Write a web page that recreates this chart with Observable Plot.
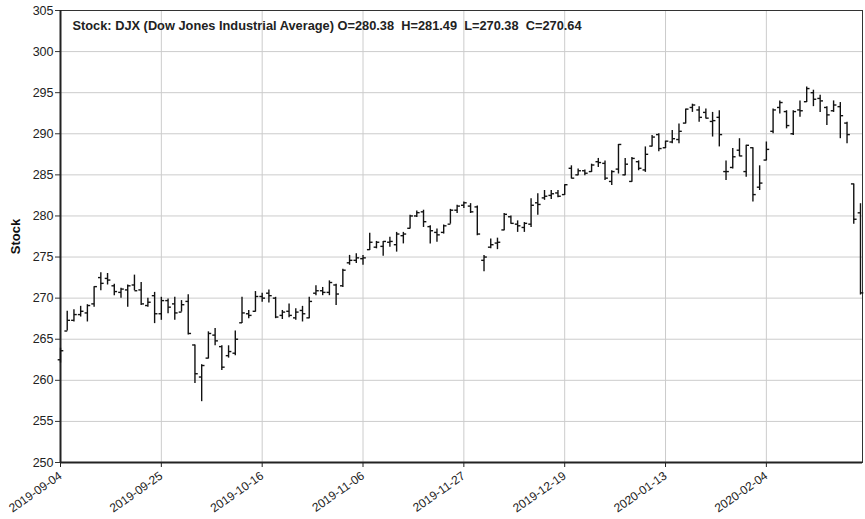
<!DOCTYPE html>
<html><head><meta charset="utf-8">
<script src="https://cdn.jsdelivr.net/npm/d3@7"></script>
<script src="https://cdn.jsdelivr.net/npm/@observablehq/plot@0.6"></script>
<style>
body{margin:0;background:#fff;}
#chart svg{font-family:"Liberation Sans",Arial,sans-serif;}
</style></head>
<body><div id="chart"></div>
<script>
const symbol = "DJX";
const symbolName = "Dow Jones Industrial Average";
const dates = [
"2019-09-04","2019-09-05","2019-09-06","2019-09-09","2019-09-10","2019-09-11","2019-09-12","2019-09-13","2019-09-16","2019-09-17","2019-09-18","2019-09-19","2019-09-20","2019-09-23","2019-09-24","2019-09-25","2019-09-26","2019-09-27","2019-09-30",
"2019-10-01","2019-10-02","2019-10-03","2019-10-04","2019-10-07","2019-10-08","2019-10-09","2019-10-10","2019-10-11","2019-10-14","2019-10-15","2019-10-16","2019-10-17","2019-10-18","2019-10-21","2019-10-22","2019-10-23","2019-10-24","2019-10-25","2019-10-28","2019-10-29","2019-10-30","2019-10-31",
"2019-11-01","2019-11-04","2019-11-05","2019-11-06","2019-11-07","2019-11-08","2019-11-11","2019-11-12","2019-11-13","2019-11-14","2019-11-15","2019-11-18","2019-11-19","2019-11-20","2019-11-21","2019-11-22","2019-11-25","2019-11-26","2019-11-27","2019-11-29",
"2019-12-02","2019-12-03","2019-12-04","2019-12-05","2019-12-06","2019-12-09","2019-12-10","2019-12-11","2019-12-12","2019-12-13","2019-12-16","2019-12-17","2019-12-18","2019-12-19","2019-12-20","2019-12-23","2019-12-24","2019-12-26","2019-12-27","2019-12-30","2019-12-31",
"2020-01-02","2020-01-03","2020-01-06","2020-01-07","2020-01-08","2020-01-09","2020-01-10","2020-01-13","2020-01-14","2020-01-15","2020-01-16","2020-01-17","2020-01-21","2020-01-22","2020-01-23","2020-01-24","2020-01-27","2020-01-28","2020-01-29","2020-01-30","2020-01-31",
"2020-02-03","2020-02-04","2020-02-05","2020-02-06","2020-02-07","2020-02-10","2020-02-11","2020-02-12","2020-02-13","2020-02-14","2020-02-18","2020-02-19","2020-02-20","2020-02-21","2020-02-24","2020-02-25"];
const open = [262.5,266.0,267.3,268.0,268.2,269.3,272.5,272.4,271.5,270.7,271.0,271.6,271.0,269.1,270.3,268.1,269.7,269.3,268.3,
269.6,264.3,260.4,262.7,265.5,264.1,263.0,263.3,267.0,268.1,268.4,270.2,270.6,270.0,267.9,268.4,267.6,268.5,267.6,270.6,270.9,270.7,271.6,
271.5,274.3,274.6,274.8,275.9,276.2,276.3,276.8,276.5,277.6,278.5,280.0,280.5,278.7,278.0,278.0,279.0,280.7,281.3,281.2,
281.1,274.6,276.2,276.7,278.3,279.9,279.0,278.6,279.0,281.6,282.2,282.5,282.8,282.6,285.8,285.0,285.5,285.4,286.6,286.4,284.2,
285.7,285.0,284.2,286.6,285.6,288.5,289.9,288.3,289.0,289.3,291.3,293.2,292.9,292.6,291.5,292.0,285.4,285.9,288.0,285.4,288.3,
283.5,286.8,290.3,293.2,292.7,290.0,292.9,293.9,295.0,294.3,293.2,292.8,293.3,291.3,283.9,280.38];
const high = [263.9,268.4,268.6,269.0,269.2,271.4,273.1,273.0,271.7,271.2,271.6,272.8,271.9,270.0,270.7,270.1,269.9,270.1,269.7,
270.4,264.3,261.9,265.9,266.3,264.2,264.2,266.0,270.1,268.5,270.8,270.6,271.0,270.1,268.5,269.3,268.7,269.0,270.1,271.5,271.3,272.1,271.7,
273.5,275.2,275.4,275.2,277.9,276.9,276.9,277.4,278.0,278.0,280.1,280.6,280.7,278.8,278.4,278.9,280.8,281.3,281.7,281.5,
281.2,275.2,277.2,277.3,280.3,280.0,279.4,279.2,282.1,282.7,283.1,283.1,283.1,283.8,286.1,285.7,285.6,286.3,287.0,286.7,285.5,
288.7,287.0,287.1,286.7,288.4,289.8,290.0,289.1,290.4,291.2,293.0,293.6,293.3,293.0,292.6,292.8,286.7,288.2,289.4,288.6,288.3,
286.1,289.0,293.0,294.0,292.8,292.8,294.0,295.7,295.3,294.7,293.3,294.0,293.8,291.4,283.9,281.49];
const low = [262.1,266.0,267.1,267.7,267.1,268.9,270.9,271.6,270.3,270.0,268.9,270.9,269.1,268.9,266.9,267.3,268.1,267.3,268.3,
265.5,259.6,257.4,262.6,264.2,261.2,262.7,263.0,266.9,267.5,268.3,269.5,269.4,267.5,267.4,267.6,267.3,267.1,267.5,270.3,270.3,270.3,269.1,
271.3,274.0,274.2,274.0,275.8,276.0,275.1,276.2,275.6,276.6,278.4,279.8,278.6,276.6,276.8,277.8,279.0,280.3,280.9,280.3,
277.6,273.2,276.0,275.9,278.2,279.0,278.0,278.0,278.6,280.1,281.9,282.0,282.2,282.5,284.5,284.9,284.9,285.3,285.9,284.3,283.7,
285.1,284.9,284.1,285.5,285.3,288.4,287.8,288.2,288.8,288.8,291.2,292.6,291.4,291.8,289.6,288.4,284.3,285.7,287.2,284.7,281.7,
283.1,286.7,290.0,292.4,290.6,289.8,292.0,293.8,293.3,292.6,291.0,292.6,289.4,288.8,279.0,270.38];
const close = [263.6,267.3,268.0,268.4,269.1,271.4,271.8,272.2,270.8,271.1,271.5,270.9,269.3,269.5,268.1,269.7,268.9,268.2,269.2,
265.7,260.8,261.8,265.7,264.8,261.6,263.5,265.0,268.2,267.9,270.2,270.0,270.3,267.7,268.3,267.9,268.3,268.1,269.6,270.9,270.7,271.9,270.5,
273.4,274.6,274.9,274.9,276.8,276.8,276.9,276.9,277.8,277.8,280.0,280.4,279.3,278.2,277.7,278.8,280.7,281.2,281.6,280.5,
277.8,275.0,276.5,276.8,280.2,279.1,278.8,279.1,281.3,281.4,282.4,282.7,282.4,283.8,284.6,285.5,285.2,286.2,286.5,284.6,285.4,
288.7,286.3,287.0,285.8,287.5,289.6,288.2,289.1,289.4,290.3,293.0,293.5,292.0,291.9,291.6,289.9,285.4,287.2,287.3,288.6,282.6,
284.0,288.1,292.9,293.8,291.0,292.7,292.8,295.5,294.2,294.0,292.3,293.5,292.2,289.9,279.6,270.64];
const xTickIndex = [0,15,30,45,60,75,90,105];
const yTicks = [250,255,260,265,270,275,280,285,290,295,300,305];

const bars = dates.map((d,i)=>({i, date:d, o:open[i], h:high[i], l:low[i], c:close[i]}));
const last = bars[bars.length-1];
const w = 0.42;
const title = `Stock: ${symbol} (${symbolName}) O=${last.o.toFixed(2)}\u00a0 H=${last.h.toFixed(2)}\u00a0 L=${last.l.toFixed(2)}\u00a0 C=${last.c.toFixed(2)}`;

const chart = Plot.plot({
  width: 865, height: 519,
  marginLeft: 60, marginRight: 3, marginTop: 10, marginBottom: 57,
  style: {fontFamily: '"Liberation Sans", Arial, sans-serif', fontSize: "12px", color: "#222"},
  x: {type: "linear", domain: [0, 119.3]},
  y: {domain: [250, 305]},
  marks: [
    Plot.gridY(yTicks, {stroke: "#cccccc", strokeOpacity: 1, strokeWidth: 1}),
    Plot.gridX(xTickIndex, {stroke: "#cccccc", strokeOpacity: 1, strokeWidth: 1}),
    Plot.axisY(yTicks, {tickSize: 5, tickPadding: 2, fontSize: 12.5, label: null, stroke: "#333"}),
    Plot.axisX(xTickIndex, {tickSize: 5, tickRotate: -35, tickFormat: i => dates[i], fontSize: 12, label: null, tickPadding: 7}),
    Plot.frame({stroke: "#333", strokeWidth: 1}),
    Plot.ruleX([0], {stroke: "#222", strokeWidth: 2}),
    Plot.ruleY([250], {stroke: "#222", strokeWidth: 2}),
    Plot.ruleX(bars, {x: "i", y1: "l", y2: "h", stroke: "#111", strokeWidth: 1.4}),
    Plot.link(bars, {x1: d => d.i - w, x2: "i", y1: "o", y2: "o", stroke: "#111", strokeWidth: 1.4}),
    Plot.link(bars, {x1: "i", x2: d => d.i + w, y1: "c", y2: "c", stroke: "#111", strokeWidth: 1.4}),
    Plot.text([title], {frameAnchor: "top-left", dx: 12, dy: 10, fontWeight: "bold", fontSize: 12.8, fill: "#222"}),
    Plot.text(["Stock"], {frameAnchor: "left", dx: -45, rotate: -90, textAnchor: "middle", fontWeight: "bold", fontSize: 13, fill: "#111"})
  ]
});
document.getElementById("chart").appendChild(chart);
</script></body></html>
